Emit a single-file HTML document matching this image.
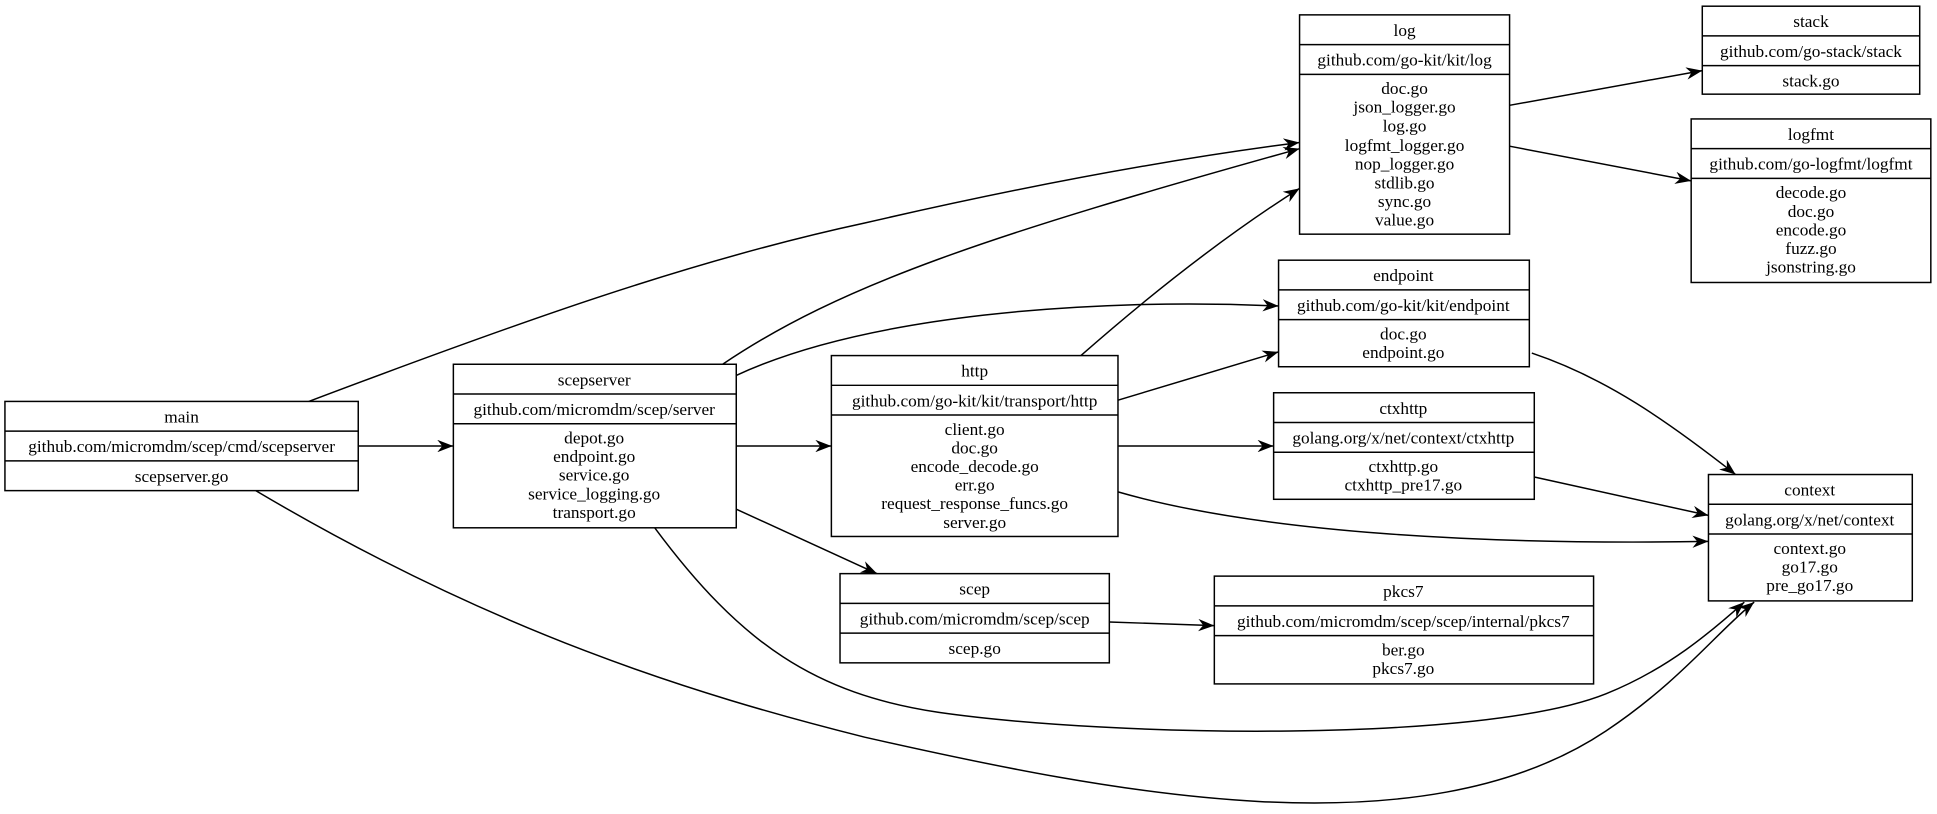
<!DOCTYPE html>
<html><head><meta charset="utf-8"><style>
html,body{margin:0;padding:0;background:#fff;}
svg{display:block}
text{font-family:"Liberation Serif",serif;font-size:14px;fill:#000;text-anchor:middle}
rect{fill:#fff;stroke:#000;stroke-width:1.2}
line.s{stroke:#000;stroke-width:1.2}
path.e{fill:none;stroke:#000;stroke-width:1.2}
</style></head><body>
<svg width="1937" height="814" viewBox="0 0 1568 657" preserveAspectRatio="none" xmlns="http://www.w3.org/2000/svg">
<defs><marker id="a" markerWidth="14" markerHeight="10" refX="13" refY="5" orient="auto" markerUnits="userSpaceOnUse">
<path d="M0,0 L13,5 L0,10 L4,5 Z" fill="#000"/></marker></defs>
<g>
<path class="e" marker-end="url(#a)" d="M290,360 L367,360"/>
<path class="e" marker-end="url(#a)" d="M250,324 C420,260 560,210 700,180 C830,150 950,128 1052,115"/>
<path class="e" marker-end="url(#a)" d="M207,396 C400,510 560,560 700,595 C900,640 1150,690 1300,590 C1360,550 1390,510 1420,486"/>
<path class="e" marker-end="url(#a)" d="M585,294 C680,230 800,190 1052,120"/>
<path class="e" marker-end="url(#a)" d="M596,303 C700,255 880,240 1035,247"/>
<path class="e" marker-end="url(#a)" d="M596,360 L673,360"/>
<path class="e" marker-end="url(#a)" d="M596,411 L710,463"/>
<path class="e" marker-end="url(#a)" d="M530,426 C600,520 660,560 760,575 C900,595 1200,600 1300,560 C1350,540 1385,510 1412,486"/>
<path class="e" marker-end="url(#a)" d="M875,287 C940,230 1000,185 1052,152"/>
<path class="e" marker-end="url(#a)" d="M905,323 L1035,284"/>
<path class="e" marker-end="url(#a)" d="M905,360 L1031,360"/>
<path class="e" marker-end="url(#a)" d="M905,397 C1020,430 1200,440 1383,437"/>
<path class="e" marker-end="url(#a)" d="M898,502 L983,505"/>
<path class="e" marker-end="url(#a)" d="M1222,85 L1378,57"/>
<path class="e" marker-end="url(#a)" d="M1222,118 L1369,146"/>
<path class="e" marker-end="url(#a)" d="M1240,285 C1300,305 1350,340 1405,383"/>
<path class="e" marker-end="url(#a)" d="M1242,385 L1383,416"/>
</g>
<!-- main -->
<rect x="4" y="324" width="286" height="72"/><line class="s" x1="4" y1="348" x2="290" y2="348"/><line class="s" x1="4" y1="372" x2="290" y2="372"/>
<text x="147" y="341">main</text><text x="147" y="365">github.com/micromdm/scep/cmd/scepserver</text><text x="147" y="389">scepserver.go</text>
<!-- scepserver -->
<rect x="367" y="294" width="229" height="132"/><line class="s" x1="367" y1="318" x2="596" y2="318"/><line class="s" x1="367" y1="342" x2="596" y2="342"/>
<text x="481" y="311">scepserver</text><text x="481" y="335">github.com/micromdm/scep/server</text>
<text x="481" y="358">depot.go</text><text x="481" y="373">endpoint.go</text><text x="481" y="388">service.go</text><text x="481" y="403">service_logging.go</text><text x="481" y="418">transport.go</text>
<!-- http -->
<rect x="673" y="287" width="232" height="146"/><line class="s" x1="673" y1="311" x2="905" y2="311"/><line class="s" x1="673" y1="335" x2="905" y2="335"/>
<text x="789" y="304">http</text><text x="789" y="328">github.com/go-kit/kit/transport/http</text>
<text x="789" y="351">client.go</text><text x="789" y="366">doc.go</text><text x="789" y="381">encode_decode.go</text><text x="789" y="396">err.go</text><text x="789" y="411">request_response_funcs.go</text><text x="789" y="426">server.go</text>
<!-- scep -->
<rect x="680" y="463" width="218" height="72"/><line class="s" x1="680" y1="487" x2="898" y2="487"/><line class="s" x1="680" y1="511" x2="898" y2="511"/>
<text x="789" y="480">scep</text><text x="789" y="504">github.com/micromdm/scep/scep</text><text x="789" y="528">scep.go</text>
<!-- pkcs7 -->
<rect x="983" y="465" width="307" height="87"/><line class="s" x1="983" y1="489" x2="1290" y2="489"/><line class="s" x1="983" y1="513" x2="1290" y2="513"/>
<text x="1136" y="482">pkcs7</text><text x="1136" y="506">github.com/micromdm/scep/scep/internal/pkcs7</text>
<text x="1136" y="529">ber.go</text><text x="1136" y="544">pkcs7.go</text>
<!-- log -->
<rect x="1052" y="12" width="170" height="177"/><line class="s" x1="1052" y1="36" x2="1222" y2="36"/><line class="s" x1="1052" y1="60" x2="1222" y2="60"/>
<text x="1137" y="29">log</text><text x="1137" y="53">github.com/go-kit/kit/log</text>
<text x="1137" y="76">doc.go</text><text x="1137" y="91">json_logger.go</text><text x="1137" y="106">log.go</text><text x="1137" y="122">logfmt_logger.go</text><text x="1137" y="137">nop_logger.go</text><text x="1137" y="152">stdlib.go</text><text x="1137" y="167">sync.go</text><text x="1137" y="182">value.go</text>
<!-- endpoint -->
<rect x="1035" y="210" width="203" height="86"/><line class="s" x1="1035" y1="234" x2="1238" y2="234"/><line class="s" x1="1035" y1="258" x2="1238" y2="258"/>
<text x="1136" y="227">endpoint</text><text x="1136" y="251">github.com/go-kit/kit/endpoint</text>
<text x="1136" y="274">doc.go</text><text x="1136" y="289">endpoint.go</text>
<!-- ctxhttp -->
<rect x="1031" y="317" width="211" height="86"/><line class="s" x1="1031" y1="341" x2="1242" y2="341"/><line class="s" x1="1031" y1="365" x2="1242" y2="365"/>
<text x="1136" y="334">ctxhttp</text><text x="1136" y="358">golang.org/x/net/context/ctxhttp</text>
<text x="1136" y="381">ctxhttp.go</text><text x="1136" y="396">ctxhttp_pre17.go</text>
<!-- context -->
<rect x="1383" y="383" width="165" height="102"/><line class="s" x1="1383" y1="407" x2="1548" y2="407"/><line class="s" x1="1383" y1="431" x2="1548" y2="431"/>
<text x="1465" y="400">context</text><text x="1465" y="424">golang.org/x/net/context</text>
<text x="1465" y="447">context.go</text><text x="1465" y="462">go17.go</text><text x="1465" y="477">pre_go17.go</text>
<!-- stack -->
<rect x="1378" y="5" width="176" height="71"/><line class="s" x1="1378" y1="29" x2="1554" y2="29"/><line class="s" x1="1378" y1="53" x2="1554" y2="53"/>
<text x="1466" y="22">stack</text><text x="1466" y="46">github.com/go-stack/stack</text><text x="1466" y="70">stack.go</text>
<!-- logfmt -->
<rect x="1369" y="96" width="194" height="132"/><line class="s" x1="1369" y1="120" x2="1563" y2="120"/><line class="s" x1="1369" y1="144" x2="1563" y2="144"/>
<text x="1466" y="113">logfmt</text><text x="1466" y="137">github.com/go-logfmt/logfmt</text>
<text x="1466" y="160">decode.go</text><text x="1466" y="175">doc.go</text><text x="1466" y="190">encode.go</text><text x="1466" y="205">fuzz.go</text><text x="1466" y="220">jsonstring.go</text>
</svg>
</body></html>
